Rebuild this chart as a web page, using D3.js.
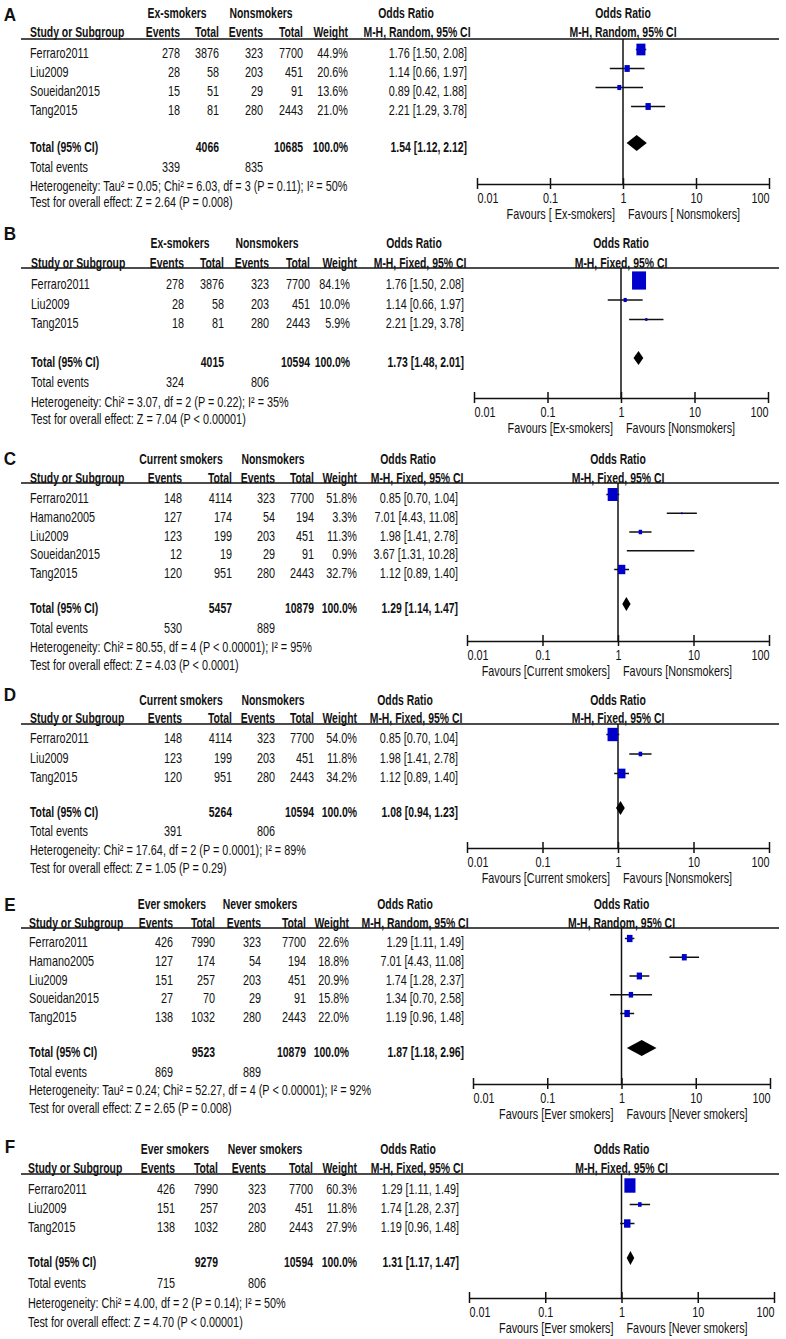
<!DOCTYPE html>
<html>
<head>
<meta charset="utf-8">
<script src="https://cdn.jsdelivr.net/npm/d3@7"></script>
<style>
  body { margin: 0; background: #fff; }
  text { font-family: "Liberation Sans", Arial, sans-serif; fill: #111; }
</style>
</head>
<body>
<div id="chart"></div>
<script>
// Forest plots A-F, smoking status vs outcome
var svgWidth = 786;
var svgHeight = 1339;
var fontSize = 14;
var squeeze = 0.775;     // the original figure is narrow, so text is squeezed sideways
var boldSqueeze = 0.745;

var orTicks = [0.01, 0.1, 1, 10, 100];
var orTickLabels = ["0.01", "0.1", "1", "10", "100"];

// rows: events1, total1, events2, total2, weight %, OR, lower, upper
var studiesA = ["Ferraro2011", "Liu2009", "Soueidan2015", "Tang2015"];
var rowsA = [[278, 3876, 323, 7700, 44.9, 1.76, 1.50, 2.08],
             [28, 58, 203, 451, 20.6, 1.14, 0.66, 1.97],
             [15, 51, 29, 91, 13.6, 0.89, 0.42, 1.88],
             [18, 81, 280, 2443, 21.0, 2.21, 1.29, 3.78]];
var totalA = [4066, 10685, 100.0, 1.54, 1.12, 2.12];
var eventsA = [339, 835];

var studiesB = ["Ferraro2011", "Liu2009", "Tang2015"];
var rowsB = [[278, 3876, 323, 7700, 84.1, 1.76, 1.50, 2.08],
             [28, 58, 203, 451, 10.0, 1.14, 0.66, 1.97],
             [18, 81, 280, 2443, 5.9, 2.21, 1.29, 3.78]];
var totalB = [4015, 10594, 100.0, 1.73, 1.48, 2.01];
var eventsB = [324, 806];

var studiesC = ["Ferraro2011", "Hamano2005", "Liu2009", "Soueidan2015", "Tang2015"];
var rowsC = [[148, 4114, 323, 7700, 51.8, 0.85, 0.70, 1.04],
             [127, 174, 54, 194, 3.3, 7.01, 4.43, 11.08],
             [123, 199, 203, 451, 11.3, 1.98, 1.41, 2.78],
             [12, 19, 29, 91, 0.9, 3.67, 1.31, 10.28],
             [120, 951, 280, 2443, 32.7, 1.12, 0.89, 1.40]];
var totalC = [5457, 10879, 100.0, 1.29, 1.14, 1.47];
var eventsC = [530, 889];

var studiesD = ["Ferraro2011", "Liu2009", "Tang2015"];
var rowsD = [[148, 4114, 323, 7700, 54.0, 0.85, 0.70, 1.04],
             [123, 199, 203, 451, 11.8, 1.98, 1.41, 2.78],
             [120, 951, 280, 2443, 34.2, 1.12, 0.89, 1.40]];
var totalD = [5264, 10594, 100.0, 1.08, 0.94, 1.23];
var eventsD = [391, 806];

var studiesE = ["Ferraro2011", "Hamano2005", "Liu2009", "Soueidan2015", "Tang2015"];
var rowsE = [[426, 7990, 323, 7700, 22.6, 1.29, 1.11, 1.49],
             [127, 174, 54, 194, 18.8, 7.01, 4.43, 11.08],
             [151, 257, 203, 451, 20.9, 1.74, 1.28, 2.37],
             [27, 70, 29, 91, 15.8, 1.34, 0.70, 2.58],
             [138, 1032, 280, 2443, 22.0, 1.19, 0.96, 1.48]];
var totalE = [9523, 10879, 100.0, 1.87, 1.18, 2.96];
var eventsE = [869, 889];

var studiesF = ["Ferraro2011", "Liu2009", "Tang2015"];
var rowsF = [[426, 7990, 323, 7700, 60.3, 1.29, 1.11, 1.49],
             [151, 257, 203, 451, 11.8, 1.74, 1.28, 2.37],
             [138, 1032, 280, 2443, 27.9, 1.19, 0.96, 1.48]];
var totalF = [9279, 10594, 100.0, 1.31, 1.17, 1.47];
var eventsF = [715, 806];

var groups = {
  A: ["Ex-smokers", "Nonsmokers"], B: ["Ex-smokers", "Nonsmokers"],
  C: ["Current smokers", "Nonsmokers"], D: ["Current smokers", "Nonsmokers"],
  E: ["Ever smokers", "Never smokers"], F: ["Ever smokers", "Never smokers"]
};
var favours = {
  A: ["Favours [ Ex-smokers]", "Favours [ Nonsmokers]"],
  B: ["Favours [Ex-smokers]", "Favours [Nonsmokers]"],
  C: ["Favours [Current smokers]", "Favours [Nonsmokers]"],
  D: ["Favours [Current smokers]", "Favours [Nonsmokers]"],
  E: ["Favours [Ever smokers]", "Favours [Never smokers]"],
  F: ["Favours [Ever smokers]", "Favours [Never smokers]"]
};
var methods = { A: "Random", B: "Fixed", C: "Fixed", D: "Fixed", E: "Random", F: "Fixed" };
var heterogeneity = {
  A: "Heterogeneity: Tau\u00b2 = 0.05; Chi\u00b2 = 6.03, df = 3 (P = 0.11); I\u00b2 = 50%",
  B: "Heterogeneity: Chi\u00b2 = 3.07, df = 2 (P = 0.22); I\u00b2 = 35%",
  C: "Heterogeneity: Chi\u00b2 = 80.55, df = 4 (P < 0.00001); I\u00b2 = 95%",
  D: "Heterogeneity: Chi\u00b2 = 17.64, df = 2 (P = 0.0001); I\u00b2 = 89%",
  E: "Heterogeneity: Tau\u00b2 = 0.24; Chi\u00b2 = 52.27, df = 4 (P < 0.00001); I\u00b2 = 92%",
  F: "Heterogeneity: Chi\u00b2 = 4.00, df = 2 (P = 0.14); I\u00b2 = 50%"
};
var overall = {
  A: "Test for overall effect: Z = 2.64 (P = 0.008)",
  B: "Test for overall effect: Z = 7.04 (P < 0.00001)",
  C: "Test for overall effect: Z = 4.03 (P < 0.0001)",
  D: "Test for overall effect: Z = 1.05 (P = 0.29)",
  E: "Test for overall effect: Z = 2.65 (P = 0.008)",
  F: "Test for overall effect: Z = 4.70 (P < 0.00001)"
};

// layout of each panel (pixel positions)
var layouts = [
  { key: "A", studies: studiesA, rows: rowsA, total: totalA, events: eventsA,
    y: { letter: 15, grp: 13, col: 32, line: 39, row0: 53, step: 19, total: 147, ev: 167, het: 186, test: 202, axis: 184 },
    x: { study: 30, ev1: 180, tot1: 219, ev2: 263, tot2: 303, wt: 348, wtHdr: 348, grp1: 177, grp2: 261, orHdr: 406, mh: 417, orEnd: 467, axis: [477, 769] } },
  { key: "B", studies: studiesB, rows: rowsB, total: totalB, events: eventsB,
    y: { letter: 234, grp: 243, col: 263, line: 268, row0: 284, step: 19.5, total: 362, ev: 382, het: 402, test: 419, axis: 398 },
    x: { study: 31, ev1: 184, tot1: 224, ev2: 269, tot2: 310, wt: 350, wtHdr: 357, grp1: 180, grp2: 267, orHdr: 414, mh: 420, orEnd: 464, axis: [474, 768] } },
  { key: "C", studies: studiesC, rows: rowsC, total: totalC, events: eventsC,
    y: { letter: 459, grp: 459, col: 478, line: 483, row0: 498, step: 18.75, total: 608, ev: 628, het: 647, test: 665, axis: 641 },
    x: { study: 30, ev1: 182, tot1: 232, ev2: 275, tot2: 314, wt: 357, wtHdr: 357, grp1: 181, grp2: 273, orHdr: 408, mh: 417, orEnd: 458, axis: [467, 769] } },
  { key: "D", studies: studiesD, rows: rowsD, total: totalD, events: eventsD,
    y: { letter: 695, grp: 700, col: 718, line: 724, row0: 738, step: 19.5, total: 812, ev: 831, het: 850, test: 868, axis: 848 },
    x: { study: 30, ev1: 182, tot1: 232, ev2: 275, tot2: 314, wt: 357, wtHdr: 357, grp1: 181, grp2: 273, orHdr: 405, mh: 416, orEnd: 458, axis: [467, 769] } },
  { key: "E", studies: studiesE, rows: rowsE, total: totalE, events: eventsE,
    y: { letter: 905, grp: 904, col: 923, line: 928, row0: 942, step: 18.75, total: 1052, ev: 1072, het: 1090, test: 1108, axis: 1084 },
    x: { study: 29, ev1: 173, tot1: 215, ev2: 261, tot2: 306, wt: 349, wtHdr: 349, grp1: 172, grp2: 260, orHdr: 405, mh: 415, orEnd: 464, axis: [473, 770] } },
  { key: "F", studies: studiesF, rows: rowsF, total: totalF, events: eventsF,
    y: { letter: 1147, grp: 1149, col: 1168, line: 1174, row0: 1189, step: 19, total: 1262, ev: 1283, het: 1303, test: 1322, axis: 1298 },
    x: { study: 28, ev1: 175, tot1: 218, ev2: 266, tot2: 313, wt: 357, wtHdr: 357, grp1: 175, grp2: 265, orHdr: 408, mh: 417, orEnd: 459, axis: [469, 774] } }
];

var svg = d3.select("#chart")
  .append("svg")
  .attr("width", svgWidth)
  .attr("height", svgHeight);

var f2 = d3.format(".2f");
var f1 = d3.format(".1f");
function orText(r) {
  return `${f2(r[0])} [${f2(r[1])}, ${f2(r[2])}]`;
}

// box side grows a bit slower than weight, like RevMan
var boxSize = d3.scalePow().exponent(0.7).domain([0, 100]).range([0, 15.8]);

// text at centre y, squeezed horizontally
function txt(g, x, y, s, anchor, bold, size, sq) {
  return g.append("text")
    .attr("transform", `translate(${x},${y}) scale(${sq || (bold ? boldSqueeze : squeeze)},1)`)
    .attr("dy", "0.36em")
    .attr("text-anchor", anchor || "start")
    .attr("font-weight", bold ? "bold" : null)
    .attr("font-size", size || fontSize)
    .text(s);
}

function drawPanel(p) {
  var g = svg.append("g");
  var X = p.x, Y = p.y;
  var method = "M-H, " + methods[p.key] + ", 95% CI";

  var xScale = d3.scaleLog().domain([0.01, 100]).range(X.axis);
  var one = xScale(1);

  // panel letter and headers
  txt(g, 10, Y.letter, p.key, "middle", true, 18, 0.95);
  txt(g, X.grp1, Y.grp, groups[p.key][0], "middle", true);
  txt(g, X.grp2, Y.grp, groups[p.key][1], "middle", true);
  txt(g, X.orHdr, Y.grp, "Odds Ratio", "middle", true);
  txt(g, one, Y.grp, "Odds Ratio", "middle", true);

  txt(g, X.study, Y.col, "Study or Subgroup", "start", true);
  txt(g, X.ev1, Y.col, "Events", "end", true);
  txt(g, X.tot1, Y.col, "Total", "end", true);
  txt(g, X.ev2, Y.col, "Events", "end", true);
  txt(g, X.tot2, Y.col, "Total", "end", true);
  txt(g, X.wtHdr, Y.col, "Weight", "end", true);
  txt(g, X.mh, Y.col, method, "middle", true);
  txt(g, one, Y.col, method, "middle", true);

  g.append("line")
    .attr("x1", 21).attr("x2", 779)
    .attr("y1", Y.line).attr("y2", Y.line)
    .attr("stroke", "#111").attr("stroke-width", 1.5);

  // study rows
  p.rows.forEach(function (r, i) {
    var y = Y.row0 + i * Y.step;
    txt(g, X.study, y, p.studies[i]);
    txt(g, X.ev1, y, r[0], "end");
    txt(g, X.tot1, y, r[1], "end");
    txt(g, X.ev2, y, r[2], "end");
    txt(g, X.tot2, y, r[3], "end");
    txt(g, X.wt, y, f1(r[4]) + "%", "end");
    txt(g, X.orEnd, y, orText(r.slice(5)), "end");
  });

  // totals
  txt(g, X.study, Y.total, "Total (95% CI)", "start", true);
  txt(g, X.tot1, Y.total, p.total[0], "end", true);
  txt(g, X.tot2, Y.total, p.total[1], "end", true);
  txt(g, X.wt, Y.total, f1(p.total[2]) + "%", "end", true);
  txt(g, X.orEnd, Y.total, orText(p.total.slice(3)), "end", true);

  txt(g, X.study, Y.ev, "Total events");
  txt(g, X.ev1, Y.ev, p.events[0], "end");
  txt(g, X.ev2, Y.ev, p.events[1], "end");
  txt(g, X.study, Y.het, heterogeneity[p.key]);
  txt(g, X.study, Y.test, overall[p.key]);

  // line of no effect
  g.append("line")
    .attr("x1", one).attr("x2", one)
    .attr("y1", Y.line).attr("y2", Y.axis)
    .attr("stroke", "#111").attr("stroke-width", 1.5);

  // confidence intervals
  g.selectAll(".ci")
    .data(p.rows)
    .enter()
    .append("line")
    .attr("x1", d => xScale(d[6]))
    .attr("x2", d => xScale(d[7]))
    .attr("y1", (d, i) => Y.row0 + i * Y.step - 3.5)
    .attr("y2", (d, i) => Y.row0 + i * Y.step - 3.5)
    .attr("stroke", "#111")
    .attr("stroke-width", 1.5);

  // weighted boxes
  g.selectAll(".box")
    .data(p.rows)
    .enter()
    .append("rect")
    .attr("x", d => xScale(d[5]) - boxSize(d[4]) / 2)
    .attr("y", (d, i) => Y.row0 + i * Y.step - 3.5 - boxSize(d[4]) * 0.65)
    .attr("width", d => boxSize(d[4]))
    .attr("height", d => boxSize(d[4]) * 1.3)
    .attr("fill", "#0000cc");

  // pooled diamond
  var yd = Y.total - 4;
  var hh = methods[p.key] == "Random" ? 8 : 7;
  var t = p.total;
  g.append("path")
    .attr("d", `M${xScale(t[4])},${yd}L${xScale(t[3])},${yd - hh}L${xScale(t[5])},${yd}L${xScale(t[3])},${yd + hh}Z`)
    .attr("fill", "#000");

  // log axis
  var bottomAxis = d3.axisBottom(xScale)
    .tickValues(orTicks)
    .tickFormat((d, i) => orTickLabels[i])
    .tickSizeOuter(0);

  var axis = g.append("g")
    .attr("transform", `translate(0, ${Y.axis})`)
    .call(bottomAxis);

  axis.select(".domain").attr("stroke", "#111").attr("stroke-width", 1.5);
  axis.selectAll(".tick line")
    .attr("y1", -6).attr("y2", 5)
    .attr("stroke", "#111").attr("stroke-width", 1.5);
  axis.selectAll(".tick text")
    .attr("y", 0).attr("dy", "0.36em")
    .attr("transform", `translate(0,14) scale(${squeeze},1)`)
    .attr("font-size", fontSize)
    .attr("font-family", null)
    .attr("fill", "#111")
    .attr("text-anchor", (d, i) => i == 0 ? "start" : (i == orTicks.length - 1 ? "end" : "middle"));

  txt(g, one - 8, Y.axis + 30, favours[p.key][0], "end");
  txt(g, one + 5, Y.axis + 30, favours[p.key][1], "start");
}

layouts.forEach(drawPanel);
</script>
</body>
</html>
